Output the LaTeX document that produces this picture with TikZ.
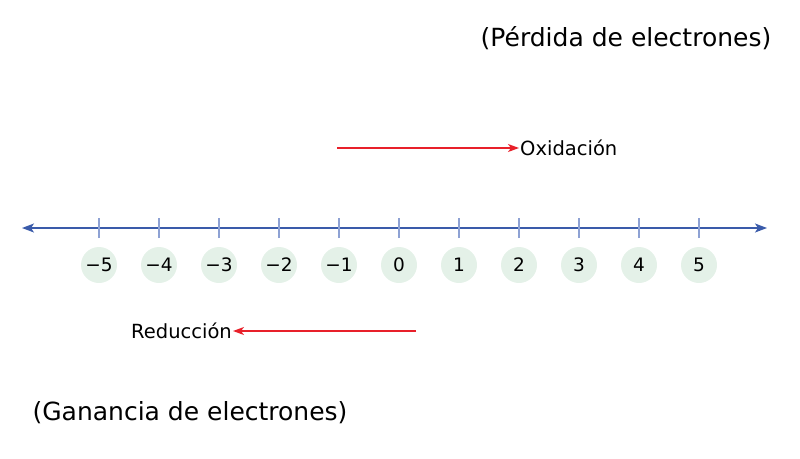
\documentclass[tikz,border=0pt]{standalone}
\usepackage{fontspec}
\setmainfont{DejaVu Sans}
\usetikzlibrary{arrows.meta}

\definecolor{axisblue}{HTML}{3A5BAA}
\definecolor{tickblue}{HTML}{8EA2D4}
\definecolor{discgreen}{HTML}{E4F1E8}
\definecolor{arrowred}{HTML}{E8202A}

\begin{document}
\begin{tikzpicture}[x=1pt,y=-1pt,
    numdisc/.style={circle, fill=discgreen, minimum size=36pt, inner sep=0pt, font=\fontsize{18.5}{20}\selectfont},
    tickmark/.style={draw=tickblue, line width=1.2pt},
    axisline/.style={draw=axisblue, line width=1.5pt, {Stealth[length=12pt,width=9pt,inset=3pt]}-{Stealth[length=12pt,width=9pt,inset=3pt]}},
    redarrow/.style={draw=arrowred, line width=1.3pt, -{Stealth[length=11pt,width=8pt,inset=3pt]}},
    tag/.style={font=\fontsize{19.5}{22}\selectfont, inner sep=1pt},
    caption/.style={font=\fontsize{25}{28}\selectfont}]

\useasboundingbox (0,0) rectangle (800,458);

% Number line with arrows at both ends
\coordinate (lineleft) at (22,228);
\coordinate (lineright) at (767,228);
\draw[axisline] (lineleft) -- (lineright);

% Ticks and numbered discs
\foreach \n [count=\i from 0] in {-5,...,5}{
  \coordinate (tick\i) at (99+60*\i,228);
  \draw[tickmark] ([yshift=-10pt]tick\i) -- ([yshift=10pt]tick\i);
  \node[numdisc] (num\i) at (99+60*\i,265)
    {\ifnum\n<0 −\the\numexpr-\n\relax\else\n\fi};
}

% Oxidation arrow
\coordinate (oxstart) at (337,148);
\node[tag, anchor=west] (oxtext) at (519,148) {Oxidación};
\draw[redarrow] (oxstart) -- (oxtext);

% Reduction arrow
\coordinate (redstart) at (416,331);
\node[tag, anchor=east] (redtext) at (233,331) {Reducción};
\draw[redarrow] (redstart) -- (redtext);

% Captions
\node[caption] (loss) at (626,38) {(Pérdida de electrones)};
\node[caption] (gain) at (190,413) {(Ganancia de electrones)};

\end{tikzpicture}
\end{document}
